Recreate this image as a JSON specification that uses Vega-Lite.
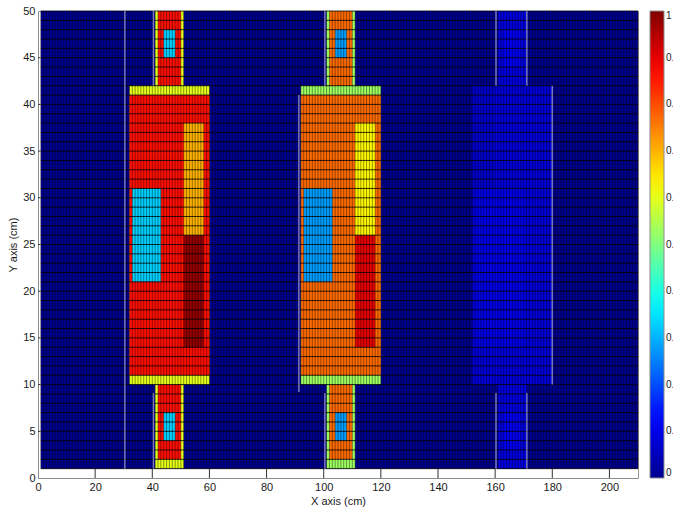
{
  "$schema": "https://vega.github.io/schema/vega-lite/v6.json",
  "autosize": {"type": "none"},
  "width": 600,
  "height": 467,
  "padding": {"left": 38, "top": 11, "right": 35, "bottom": 30},
  "background": "#ffffff",
  "config": {
    "font": "Liberation Sans",
    "view": {"stroke": "#9a9a9a", "strokeWidth": 1},
    "axis": {
      "titleFontSize": 11, "titleFontWeight": "normal", "titleColor": "#1a1a1a",
      "labelFontSize": 11, "labelColor": "#1a1a1a", "labelPadding": 3,
      "ticks": false, "domainColor": "#8c8c8c", "grid": false, "labelFlush": false
    },
    "axisX": {"titlePadding": 3},
    "axisY": {"titlePadding": 4}
  },
  "resolve": {"axis": {"x": "independent", "y": "independent"}},
  "datasets": {
    "cells": [
      {"x": 1, "x2": 210, "y": 1, "y2": 50, "v": 0},
      {"x": 32, "x2": 60, "y": 10, "y2": 42, "v": 0.6},
      {"x": 32, "x2": 60, "y": 11, "y2": 41, "v": 0.86},
      {"x": 41, "x2": 51, "y": 42, "y2": 50, "v": 0.6},
      {"x": 42, "x2": 50, "y": 42, "y2": 50, "v": 0.86},
      {"x": 44, "x2": 48, "y": 45, "y2": 48, "v": 0.33},
      {"x": 41, "x2": 51, "y": 1, "y2": 10, "v": 0.6},
      {"x": 42, "x2": 50, "y": 2, "y2": 10, "v": 0.86},
      {"x": 44, "x2": 48, "y": 4, "y2": 7, "v": 0.33},
      {"x": 33, "x2": 43, "y": 21, "y2": 31, "v": 0.33},
      {"x": 51, "x2": 58, "y": 26, "y2": 38, "v": 0.7},
      {"x": 51, "x2": 58, "y": 14, "y2": 26, "v": 0.98},
      {"x": 92, "x2": 120, "y": 10, "y2": 42, "v": 0.53},
      {"x": 92, "x2": 120, "y": 11, "y2": 41, "v": 0.77},
      {"x": 101, "x2": 111, "y": 42, "y2": 50, "v": 0.53},
      {"x": 102, "x2": 110, "y": 42, "y2": 50, "v": 0.77},
      {"x": 104, "x2": 108, "y": 45, "y2": 48, "v": 0.28},
      {"x": 101, "x2": 111, "y": 1, "y2": 10, "v": 0.53},
      {"x": 102, "x2": 110, "y": 2, "y2": 10, "v": 0.77},
      {"x": 104, "x2": 108, "y": 4, "y2": 7, "v": 0.28},
      {"x": 93, "x2": 103, "y": 21, "y2": 31, "v": 0.28},
      {"x": 111, "x2": 118, "y": 26, "y2": 38, "v": 0.63},
      {"x": 111, "x2": 118, "y": 14, "y2": 26, "v": 0.9},
      {"x": 152, "x2": 180, "y": 10, "y2": 42, "v": 0.085},
      {"x": 152, "x2": 160, "y": 31, "y2": 42, "v": 0.07},
      {"x": 153, "x2": 170, "y": 14, "y2": 31, "v": 0.1},
      {"x": 161, "x2": 171, "y": 42, "y2": 50, "v": 0.09},
      {"x": 161, "x2": 171, "y": 1, "y2": 10, "v": 0.09},
      {"x": 163, "x2": 169, "y": 44, "y2": 48, "v": 0.11},
      {"x": 163, "x2": 169, "y": 3, "y2": 7, "v": 0.11}
    ],
    "vlines": [
      {"x":1},{"x":2},{"x":3},{"x":4},{"x":5},{"x":6},{"x":7},{"x":8},{"x":9},{"x":10},
      {"x":11},{"x":12},{"x":13},{"x":14},{"x":15},{"x":16},{"x":17},{"x":18},{"x":19},{"x":20},
      {"x":21},{"x":22},{"x":23},{"x":24},{"x":25},{"x":26},{"x":27},{"x":28},{"x":29},{"x":30},
      {"x":31},{"x":32},{"x":33},{"x":34},{"x":35},{"x":36},{"x":37},{"x":38},{"x":39},{"x":40},
      {"x":41},{"x":42},{"x":43},{"x":44},{"x":45},{"x":46},{"x":47},{"x":48},{"x":49},{"x":50},
      {"x":51},{"x":52},{"x":53},{"x":54},{"x":55},{"x":56},{"x":57},{"x":58},{"x":59},{"x":60},
      {"x":61},{"x":62},{"x":63},{"x":64},{"x":65},{"x":66},{"x":67},{"x":68},{"x":69},{"x":70},
      {"x":71},{"x":72},{"x":73},{"x":74},{"x":75},{"x":76},{"x":77},{"x":78},{"x":79},{"x":80},
      {"x":81},{"x":82},{"x":83},{"x":84},{"x":85},{"x":86},{"x":87},{"x":88},{"x":89},{"x":90},
      {"x":91},{"x":92},{"x":93},{"x":94},{"x":95},{"x":96},{"x":97},{"x":98},{"x":99},{"x":100},
      {"x":101},{"x":102},{"x":103},{"x":104},{"x":105},{"x":106},{"x":107},{"x":108},{"x":109},{"x":110},
      {"x":111},{"x":112},{"x":113},{"x":114},{"x":115},{"x":116},{"x":117},{"x":118},{"x":119},{"x":120},
      {"x":121},{"x":122},{"x":123},{"x":124},{"x":125},{"x":126},{"x":127},{"x":128},{"x":129},{"x":130},
      {"x":131},{"x":132},{"x":133},{"x":134},{"x":135},{"x":136},{"x":137},{"x":138},{"x":139},{"x":140},
      {"x":141},{"x":142},{"x":143},{"x":144},{"x":145},{"x":146},{"x":147},{"x":148},{"x":149},{"x":150},
      {"x":151},{"x":152},{"x":153},{"x":154},{"x":155},{"x":156},{"x":157},{"x":158},{"x":159},{"x":160},
      {"x":161},{"x":162},{"x":163},{"x":164},{"x":165},{"x":166},{"x":167},{"x":168},{"x":169},{"x":170},
      {"x":171},{"x":172},{"x":173},{"x":174},{"x":175},{"x":176},{"x":177},{"x":178},{"x":179},{"x":180},
      {"x":181},{"x":182},{"x":183},{"x":184},{"x":185},{"x":186},{"x":187},{"x":188},{"x":189},{"x":190},
      {"x":191},{"x":192},{"x":193},{"x":194},{"x":195},{"x":196},{"x":197},{"x":198},{"x":199},{"x":200},
      {"x":201},{"x":202},{"x":203},{"x":204},{"x":205},{"x":206},{"x":207},{"x":208},{"x":209},{"x":210}
    ],
    "hlines": [
      {"y":1},{"y":2},{"y":3},{"y":4},{"y":5},{"y":6},{"y":7},{"y":8},{"y":9},{"y":10},
      {"y":11},{"y":12},{"y":13},{"y":14},{"y":15},{"y":16},{"y":17},{"y":18},{"y":19},{"y":20},
      {"y":21},{"y":22},{"y":23},{"y":24},{"y":25},{"y":26},{"y":27},{"y":28},{"y":29},{"y":30},
      {"y":31},{"y":32},{"y":33},{"y":34},{"y":35},{"y":36},{"y":37},{"y":38},{"y":39},{"y":40},
      {"y":41},{"y":42},{"y":43},{"y":44},{"y":45},{"y":46},{"y":47},{"y":48},{"y":49},{"y":50}
    ],
    "streaks": [
      {"x": 30.4, "y": 1, "y2": 50},
      {"x": 40.4, "y": 42, "y2": 50},
      {"x": 40.4, "y": 1, "y2": 9.1},
      {"x": 91.3, "y": 9.2, "y2": 41},
      {"x": 100.4, "y": 42, "y2": 50},
      {"x": 100.4, "y": 1, "y2": 9.1},
      {"x": 160.3, "y": 42, "y2": 50},
      {"x": 171.1, "y": 42, "y2": 50},
      {"x": 180, "y": 10, "y2": 42},
      {"x": 160.3, "y": 1, "y2": 9.1},
      {"x": 171.1, "y": 1, "y2": 9.1}
    ],
    "xticks": [
      {"x": 20}, {"x": 40}, {"x": 60}, {"x": 80}, {"x": 100},
      {"x": 120}, {"x": 140}, {"x": 160}, {"x": 180}, {"x": 200}
    ],
    "yticks": [
      {"y": 5}, {"y": 10}, {"y": 15}, {"y": 20}, {"y": 25},
      {"y": 30}, {"y": 35}, {"y": 40}, {"y": 45}
    ]
  },
  "layer": [
    {
      "data": {"name": "cells"},
      "mark": {"type": "rect", "strokeWidth": 0},
      "encoding": {
        "x": {
          "field": "x", "type": "quantitative",
          "scale": {"domain": [0, 210], "nice": false, "zero": false},
          "axis": {"values": [0, 20, 40, 60, 80, 100, 120, 140, 160, 180, 200], "title": "X axis (cm)"}
        },
        "x2": {"field": "x2"},
        "y": {
          "field": "y", "type": "quantitative",
          "scale": {"domain": [0, 50], "nice": false, "zero": false},
          "axis": {"values": [0, 5, 10, 15, 20, 25, 30, 35, 40, 45, 50], "title": "Y axis (cm)"}
        },
        "y2": {"field": "y2"},
        "color": {
          "field": "v", "type": "quantitative",
          "scale": {
            "domain": [0, 0.125, 0.375, 0.625, 0.875, 1],
            "range": ["#00008F", "#0000FF", "#00FFFF", "#FFFF00", "#FF0000", "#800000"],
            "interpolate": "rgb"
          },
          "legend": {
            "orient": "none", "legendX": 612, "legendY": 0,
            "direction": "vertical", "title": null,
            "gradientLength": 467, "gradientThickness": 14,
            "gradientStrokeColor": "#8c8c8c", "gradientStrokeWidth": 1,
            "values": [0, 0.1, 0.2, 0.3, 0.4, 0.5, 0.6, 0.7, 0.8, 0.9, 1],
            "format": ".1~f",
            "labelFontSize": 10, "labelColor": "#1a1a1a", "labelOffset": 2,
            "labelOverlap": false
          }
        }
      }
    },
    {
      "data": {"name": "vlines"},
      "mark": {"type": "rule", "color": "#000000", "strokeWidth": 0.7, "opacity": 0.6},
      "encoding": {
        "x": {"field": "x", "type": "quantitative", "axis": null},
        "y": {"datum": 1, "type": "quantitative", "axis": null},
        "y2": {"datum": 50}
      }
    },
    {
      "data": {"name": "hlines"},
      "mark": {"type": "rule", "color": "#000000", "strokeWidth": 1, "opacity": 0.8},
      "encoding": {
        "y": {"field": "y", "type": "quantitative", "axis": null},
        "x": {"datum": 1, "type": "quantitative", "axis": null},
        "x2": {"datum": 210}
      }
    },
    {
      "data": {"name": "streaks"},
      "mark": {"type": "rule", "color": "#c8c8e6", "strokeWidth": 1.5, "opacity": 0.6},
      "encoding": {
        "x": {"field": "x", "type": "quantitative", "axis": null},
        "y": {"field": "y", "type": "quantitative", "axis": null},
        "y2": {"field": "y2"}
      }
    },
    {
      "data": {"name": "xticks"},
      "mark": {"type": "rule", "color": "#333333", "strokeWidth": 1},
      "encoding": {
        "x": {"field": "x", "type": "quantitative", "axis": null},
        "y": {"datum": 0, "type": "quantitative", "axis": null},
        "y2": {"datum": 0.97}
      }
    },
    {
      "data": {"name": "yticks"},
      "mark": {"type": "rule", "color": "#333333", "strokeWidth": 1},
      "encoding": {
        "y": {"field": "y", "type": "quantitative", "axis": null},
        "x": {"datum": 0, "type": "quantitative", "axis": null},
        "x2": {"datum": 0.9}
      }
    }
  ]
}
